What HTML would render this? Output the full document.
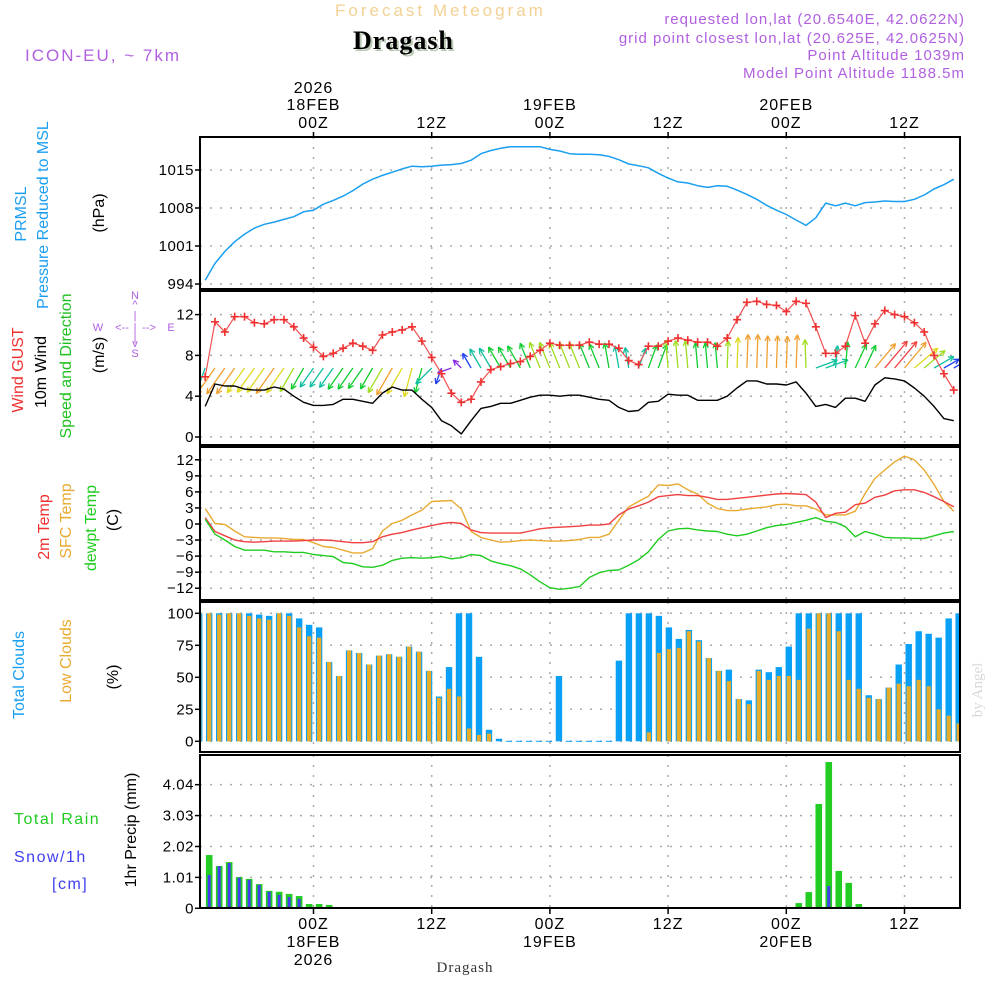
<!DOCTYPE html>
<html><head><meta charset="utf-8"><style>
html,body{margin:0;padding:0;background:#fff}
svg{display:block;font-family:"Liberation Sans",sans-serif}
</style></head><body>
<svg id="chart" width="1000" height="1000" viewBox="0 0 1000 1000" xmlns="http://www.w3.org/2000/svg">
<rect width="1000" height="1000" fill="#fff"/>
<g>
<text x="335" y="16" font-size="17" letter-spacing="3" fill="#f3d193">Forecast Meteogram</text>
<text x="355" y="51" font-family="Liberation Serif,serif" font-weight="bold" font-size="26" letter-spacing="1" fill="#b9c9b3">Dragash</text>
<text x="353" y="49" font-family="Liberation Serif,serif" font-weight="bold" font-size="26" letter-spacing="1" fill="#000">Dragash</text>
<text x="25" y="61" font-size="17" letter-spacing="2" fill="#b060e0">ICON-EU, ~ 7km</text>
<g font-size="15" letter-spacing="1" fill="#b060e0" text-anchor="end">
<text x="965" y="24">requested lon,lat (20.6540E, 42.0622N)</text>
<text x="965" y="43">grid point closest lon,lat (20.625E, 42.0625N)</text>
<text x="965" y="60">Point Altitude 1039m</text>
<text x="965" y="78">Model Point Altitude 1188.5m</text>
</g>
</g>
<g id="labels" font-size="16"></g>
<g id="plot"></g>
<text transform="translate(982,690) rotate(-90)" text-anchor="middle" font-family="Liberation Serif,serif" font-size="15" fill="#d8d8d8">by Angel</text>
</svg>
<script>
// ---------- DATA ----------
const hours = []; for (let h = -11; h <= 65; h++) hours.push(h);
const pressure = [994.7,997.8,1000.0,1001.8,1003.2,1004.3,1005.0,1005.4,1005.9,1006.4,1007.3,1007.6,1008.7,1009.4,1010.2,1011.2,1012.4,1013.3,1014.0,1014.6,1015.2,1015.7,1015.6,1015.7,1015.9,1016.0,1016.2,1016.8,1018.0,1018.6,1019.0,1019.3,1019.3,1019.3,1019.3,1018.8,1018.5,1018.0,1017.9,1017.9,1017.8,1017.5,1016.9,1016.1,1015.8,1015.4,1014.4,1013.5,1012.8,1012.6,1012.1,1011.8,1012.1,1012.0,1011.3,1010.5,1009.6,1008.5,1007.6,1006.8,1005.8,1004.8,1006.2,1008.9,1008.4,1008.9,1008.4,1009.0,1009.1,1009.3,1009.2,1009.2,1009.6,1010.4,1011.5,1012.3,1013.3];
const gust = [5.9,11.3,10.3,11.8,11.8,11.2,11.1,11.5,11.5,10.8,9.7,8.8,7.9,8.2,8.7,9.2,8.9,8.5,10.0,10.3,10.5,10.8,9.4,7.8,6.2,4.3,3.4,3.7,5.4,6.6,6.9,7.2,7.4,7.9,8.5,9.2,9.0,9.0,9.0,9.3,9.1,9.1,8.7,7.5,7.1,8.9,8.9,9.4,9.7,9.5,9.3,9.3,8.9,9.7,11.5,13.2,13.3,13.0,12.9,12.3,13.3,13.1,10.8,8.2,8.2,8.9,11.9,9.2,11.1,12.4,12.0,11.8,11.2,10.3,8.0,6.2,4.6];
const windSpeed = [3.0,5.2,5.0,5.0,4.7,4.6,4.6,4.9,4.7,4.0,3.4,3.1,3.1,3.2,3.7,3.7,3.5,3.3,4.3,4.9,4.6,4.6,3.7,2.9,1.6,1.1,0.3,1.6,2.8,3.0,3.3,3.3,3.6,3.9,4.1,4.1,4.0,4.1,4.1,3.9,3.7,3.6,2.9,2.5,2.6,3.4,3.5,4.2,4.1,4.1,3.6,3.6,3.6,4.0,4.8,5.5,5.5,5.2,5.2,5.1,5.4,4.3,3.0,3.2,2.9,3.8,3.8,3.5,5.1,5.8,5.7,5.5,4.8,4.0,3.0,1.8,1.6];
// direction the arrow points (screen degrees, 0 = east, 90 = north)
const windDir = [250,235,235,235,235,235,235,235,235,240,240,235,235,235,235,235,235,240,240,240,240,255,255,225,250,200,135,120,120,120,120,120,120,112,112,112,112,112,112,112,112,100,100,100,70,70,70,95,95,95,95,95,95,88,88,88,88,88,88,88,88,92,20,20,85,85,65,65,50,50,50,50,40,40,30,30,30];
const temp2m = [1.2,-1.4,-2.2,-3.0,-3.3,-3.4,-3.3,-3.2,-3.2,-3.2,-3.1,-3.0,-3.0,-3.1,-3.3,-3.5,-3.5,-3.3,-2.4,-1.9,-1.6,-1.1,-0.7,-0.3,0.1,0.3,0.1,-1.1,-1.6,-1.7,-1.7,-1.7,-1.7,-1.3,-0.9,-0.7,-0.6,-0.5,-0.4,-0.2,-0.2,0.0,1.7,2.8,3.4,4.1,5.1,5.3,5.5,5.3,5.3,5.0,4.6,4.6,4.8,5.0,5.2,5.4,5.6,5.7,5.6,5.5,4.1,1.2,2.0,2.2,3.6,3.9,5.0,5.4,6.2,6.4,6.4,5.9,5.1,4.2,3.2];
const tempSfc = [2.9,0.1,-0.1,-1.3,-2.4,-2.5,-2.6,-2.6,-2.7,-2.9,-2.9,-3.5,-4.2,-4.4,-4.9,-5.4,-5.4,-4.6,-1.3,0.1,0.7,1.7,2.6,4.2,4.3,4.4,2.8,-1.4,-2.5,-3.0,-3.4,-3.3,-3.1,-3.0,-3.1,-3.2,-3.2,-3.1,-2.9,-2.5,-2.5,-1.9,0.7,3.2,4.2,5.2,7.3,7.2,7.5,6.4,5.6,3.9,2.9,2.5,2.5,2.8,3.0,3.2,3.6,3.7,3.4,3.4,2.8,1.7,1.7,1.7,2.4,5.7,8.5,10.1,11.6,12.7,12.0,10.1,7.4,4.2,2.4];
const dewpoint = [0.9,-1.9,-3.0,-4.2,-4.9,-4.9,-4.9,-5.2,-5.2,-5.3,-5.3,-5.7,-5.9,-6.1,-7.2,-7.4,-8.0,-8.1,-7.7,-6.8,-6.4,-6.3,-6.4,-6.3,-6.1,-6.5,-6.3,-5.7,-5.9,-6.9,-7.4,-7.8,-8.4,-9.5,-10.8,-11.9,-12.2,-12.0,-11.7,-10.0,-9.1,-8.7,-8.6,-7.7,-6.7,-5.2,-2.9,-1.3,-0.9,-0.8,-1.1,-1.3,-1.4,-1.9,-2.2,-1.9,-1.3,-0.7,-0.3,-0.1,0.3,0.7,1.2,0.5,0.3,-0.5,-2.4,-1.4,-1.9,-2.5,-2.6,-2.6,-2.7,-2.7,-2.2,-1.7,-1.4];
const barSlots = []; for (let k = -1; k <= 75; k++) barSlots.push(k);
const totalClouds = [100,100,100,100,100,100,99,98,100,100,96,91,89,62,51,71,69,60,67,68,66,74,70,55,35,58,100,100,66,9,2,0,0,0,0,0,51,0,0,0,0,0,63,100,100,100,98,89,80,87,79,65,55,56,33,32,56,54,58,74,100,100,100,100,100,100,100,36,33,42,60,76,86,84,81,96,100];
const lowClouds = [100,100,99,100,100,98,96,95,100,98,89,82,81,62,51,71,69,60,67,68,66,74,70,55,34,41,35,10,5,6,0,0,0,0,0,0,0,0,0,0,0,0,0,0,0,7,69,72,73,86,78,65,55,47,33,29,55,48,51,51,48,88,100,100,86,48,41,34,33,42,45,43,48,43,25,20,14];
const rain = [0,1.74,1.38,1.51,1.02,0.96,0.79,0.57,0.54,0.47,0.40,0.14,0.14,0.11,0,0,0,0,0,0,0,0,0,0,0,0,0,0,0,0,0,0,0,0,0,0,0,0,0,0,0,0,0,0,0,0,0,0,0,0,0,0,0,0,0,0,0,0,0,0,0.17,0.53,3.41,4.78,1.22,0.83,0.14,0,0,0,0,0,0,0,0,0,0];
const snow = [0,1.09,1.38,1.48,1.00,0.93,0.77,0.54,0.44,0.37,0.31,0.04,0,0,0,0,0,0,0,0,0,0,0,0,0,0,0,0,0,0,0,0,0,0,0,0,0,0,0,0,0,0,0,0,0,0,0,0,0,0,0,0,0,0,0,0,0,0,0,0,0,0,0,0.73,0.03,0.05,0.02,0,0,0,0,0,0,0,0,0,0];
const pTicks = [994,1001,1008,1015];
const wTicks = [0,4,8,12];
const tTicks = [-12,-9,-6,-3,0,3,6,9,12];
const cTicks = [0,25,50,75,100];
const rTicks = [0,1.01,2.02,3.03,4.04];
const timeTicks = [0,12,24,36,48,60];
const timeTop = [["2026","18FEB","00Z"],["","","12Z"],["","19FEB","00Z"],["","","12Z"],["","20FEB","00Z"],["","","12Z"]];
const timeBottom = [["00Z","18FEB","2026"],["12Z","",""],["00Z","19FEB",""],["12Z","",""],["00Z","20FEB",""],["12Z","",""]];

// ---------- AXES ----------
const X0 = 200, X1 = 960;
const xh = h => 313.5 + 9.85 * h;
const xb = k => 209.2 + 9.993 * k;
const yP = v => 170 + (1015 - v) * 5.43;
const yW = v => 437 - 10.2 * v;
const yT = v => 524 - 5.35 * v;
const yC = v => 741.3 - 1.28 * v;
const yR = v => 908.3 - 30.6 * v;
const panels = [
  {name:'pressure-panel', top:137, bot:289, ticks:pTicks, y:yP, fmt:v=>String(v)},
  {name:'wind-panel', top:291, bot:445, ticks:wTicks, y:yW, fmt:v=>String(v)},
  {name:'temp-panel', top:447, bot:600, ticks:tTicks, y:yT, fmt:v=>String(v).replace('-','\u2212')},
  {name:'cloud-panel', top:602, bot:752, ticks:cTicks, y:yC, fmt:v=>String(v)},
  {name:'precip-panel', top:755, bot:908, ticks:rTicks, y:yR, fmt:v=>v===0?'0':v.toFixed(2)}
];
const NS = 'http://www.w3.org/2000/svg';
const plot = document.getElementById('plot');
function mk(tag, attrs, parent) {
  const e = document.createElementNS(NS, tag);
  for (const k in attrs) e.setAttribute(k, attrs[k]);
  (parent || plot).appendChild(e);
  return e;
}
const defs = mk('defs', {});
panels.forEach((p, i) => {
  const cp = mk('clipPath', {id: 'clip' + i}, defs);
  mk('rect', {x: X0, y: p.top, width: X1 - X0, height: p.bot - p.top}, cp);
});

panels.forEach((p, i) => {
  const g = mk('g', {});
  
  
  p.g = g;
  // horizontal grid + tick labels
  p.ticks.forEach(v => {
    const y = p.y(v);
    const gl = mk('line', {x1: X0, x2: X1, y1: y, y2: y, stroke: '#aaa', 'stroke-width': 1.5, 'stroke-dasharray': '2 8'}, g);
    
    
    mk('line', {x1: X0 - 5, x2: X0, y1: y, y2: y, stroke: '#000', 'stroke-width': 1.5}, g);
    const t = mk('text', {x: 194, y: y + 5, 'text-anchor': 'end', 'font-size': 15, 'letter-spacing': 0.5, fill: '#000'}, g);
    
    
    t.textContent = p.fmt(v);
  });
  // vertical grid
  timeTicks.forEach(h => {
    const x = xh(h);
    const vl = mk('line', {x1: x, x2: x, y1: p.top, y2: p.bot, stroke: '#aaa', 'stroke-width': 1.5, 'stroke-dasharray': '2 8'}, g);
    
    
  });
  p.cg = mk('g', {'clip-path': 'url(#clip' + i + ')'}, g);
});

function line(arr, yf, color, parent, name, w) {
  const d = arr.map((v, i) => (i ? 'L' : 'M') + xh(hours[i]).toFixed(1) + ' ' + yf(v).toFixed(1)).join('');
  const e = mk('path', {d: d, fill: 'none', stroke: color, 'stroke-width': w || 1.4, 'stroke-linejoin': 'round'}, parent);
  
  
}

// pressure
line(pressure, yP, '#1a9ff0', panels[0].cg, 'pressure-line', 1.5);

// wind
const wg = panels[1].cg;
function speedColor(s) {
  const stops = [[0,'#8a2be2'],[1.2,'#2040f0'],[2.5,'#10c0a0'],[3.3,'#10cc30'],[4.0,'#a0dd20'],[4.5,'#e0d820'],[4.9,'#f0a030'],[5.7,'#f04040']];
  let c = stops[0][1];
  stops.forEach(s0 => { if (s >= s0[0]) c = s0[1]; });
  return c;
}
windDir.forEach((a, i) => {
  const x = xh(hours[i]), y = 368, s = windSpeed[i];
  const L = 10 + 4.3 * s, r = a * Math.PI / 180;
  const x2 = x + L * Math.cos(r), y2 = y - L * Math.sin(r);
  const c = speedColor(s);
  const ag = mk('g', {stroke: c, 'stroke-width': 1.3, fill: 'none'}, wg);
  
  
  mk('line', {x1: x, y1: y, x2: x2, y2: y2}, ag);
  [0.45, -0.45].forEach(d => {
    const rr = r + Math.PI + d;
    mk('line', {x1: x2, y1: y2, x2: x2 + 6 * Math.cos(rr), y2: y2 - 6 * Math.sin(rr)}, ag);
  });
});
line(gust, yW, '#f05050', wg, 'gust-line', 1.2);
gust.forEach((v, i) => {
  const x = xh(hours[i]), y = yW(v);
  const m = mk('path', {d: `M${x-4} ${y}H${x+4}M${x} ${y-4}V${y+4}`, stroke: '#f03030', 'stroke-width': 1.6}, wg);
  
  
});
line(windSpeed, yW, '#000', wg, 'wind-speed-line', 1.4);

// temperature
line(tempSfc, yT, '#e8aa30', panels[2].cg, 'sfc-temp-line', 1.4);
line(temp2m, yT, '#f04040', panels[2].cg, 'temp-2m-line', 1.4);
line(dewpoint, yT, '#20cc20', panels[2].cg, 'dewpoint-line', 1.4);

// clouds
barSlots.forEach((k, i) => {
  const x = xb(k);
  if (totalClouds[i] > 0) {
    const b = mk('rect', {x: x - 3.2, y: yC(totalClouds[i]), width: 6.4, height: yC(0) - yC(totalClouds[i]), fill: '#0aa0f5'}, panels[3].cg);
    
    
  } else {
    mk('line', {x1: x - 3.2, x2: x + 3.2, y1: yC(0), y2: yC(0), stroke: '#0aa0f5', 'stroke-width': 1}, panels[3].cg);
  }
  if (lowClouds[i] > 0) {
    const b = mk('rect', {x: x - 2.1, y: yC(lowClouds[i]), width: 4.2, height: yC(0) - yC(lowClouds[i]), fill: '#e8ac28'}, panels[3].cg);
    
    
  }
});

// precip
mk('line', {x1: X0, x2: X1, y1: yR(0), y2: yR(0), stroke: '#20cc20', 'stroke-width': 1}, panels[4].cg);
barSlots.forEach((k, i) => {
  const x = xb(k);
  if (rain[i] > 0) {
    const b = mk('rect', {x: x - 3.3, y: yR(rain[i]), width: 6.6, height: yR(0) - yR(rain[i]), fill: '#22cc22'}, panels[4].cg);
    
    
  }
  if (snow[i] > 0) {
    const b = mk('rect', {x: x - 1.5, y: yR(snow[i]), width: 3, height: yR(0) - yR(snow[i]), fill: '#4040f0'}, panels[4].cg);
    
    
  }
});

// frames
panels.forEach(p => {
  const f = mk('rect', {x: X0, y: p.top, width: X1 - X0, height: p.bot - p.top, fill: 'none', stroke: '#000', 'stroke-width': 2}, p.g);
  
  
});

// time labels
timeTicks.forEach((h, j) => {
  const x = xh(h);
  mk('line', {x1: x, x2: x, y1: 132, y2: 137, stroke: '#000', 'stroke-width': 1.5});
  mk('line', {x1: x, x2: x, y1: 908, y2: 914, stroke: '#000', 'stroke-width': 1.5});
  [93, 110, 128].forEach((y, r) => {
    if (!timeTop[j][r]) return;
    const t = mk('text', {x: x, y: y, 'text-anchor': 'middle', 'font-size': 16, 'letter-spacing': 1, fill: '#000'});
    
    
    t.textContent = timeTop[j][r];
  });
  [929, 947, 965].forEach((y, r) => {
    if (!timeBottom[j][r]) return;
    const t = mk('text', {x: x, y: y, 'text-anchor': 'middle', 'font-size': 16, 'letter-spacing': 1, fill: '#000'});
    
    
    t.textContent = timeBottom[j][r];
  });
});
const bt = mk('text', {x: 465, y: 972, 'text-anchor': 'middle', 'font-family': 'Liberation Serif,serif', 'font-size': 15, 'letter-spacing': 1, fill: '#333'});


bt.textContent = 'Dragash';

// left labels
const labels = document.getElementById('labels');
const rot = [
  ['prmsl-label','PRMSL',20,214,'#1a9ff0'],
  ['pressure-label','Pressure Reduced to MSL',42,215,'#1a9ff0'],
  ['hpa-unit','(hPa)',98,213,'#000'],
  ['gust-label','Wind GUST',17,370,'#f03030'],
  ['wind-label','10m Wind',40,372,'#000'],
  ['speed-dir-label','Speed and Direction',65,366,'#20c020'],
  ['ms-unit','(m/s)',98,355,'#000'],
  ['temp2m-label','2m Temp',43,527,'#f03030'],
  ['sfc-label','SFC Temp',65,521,'#e8aa30'],
  ['dewpt-label','dewpt Temp',90,528,'#20cc20'],
  ['c-unit','(C)',112,520,'#000'],
  ['total-cloud-label','Total Clouds',18,675,'#1a9ff0'],
  ['low-cloud-label','Low Clouds',65,661,'#e8aa30'],
  ['pct-unit','(%)',112,677,'#000'],
  ['precip-label','1hr Precip (mm)',130,830,'#000']
];
rot.forEach(r => {
  const t = mk('text', {transform: `translate(${r[2]+6},${r[3]}) rotate(-90)`, 'text-anchor': 'middle', fill: r[4], 'font-size': 16}, labels);
  
  
  t.textContent = r[1];
});
const hz = [
  ['rain-label','Total  Rain',14,824,'#20cc20'],
  ['snow-label','Snow/1h',14,862,'#4040f0'],
  ['cm-label','[cm]',52,889,'#4040f0']
];
hz.forEach(r => {
  const t = mk('text', {x: r[2], y: r[3], fill: r[4], 'font-size': 16, 'letter-spacing': 1.5, 'xml:space': 'preserve'}, labels);
  
  
  t.textContent = r[1];
});
const cmp = mk('g', {fill: '#b060e0', 'font-size': 11, 'text-anchor': 'middle'}, labels);


[['N',135,299],['^',135,308],['|',135,319],['<--',122,331],['|',135,331],['-->',149,331],['|',135,341],['v',135,347],['S',135,357],['W',98,331],['E',171,331]].forEach(c => {
  const t = mk('text', {x: c[1], y: c[2]}, cmp);
  t.textContent = c[0];
});
</script>
</body></html>
